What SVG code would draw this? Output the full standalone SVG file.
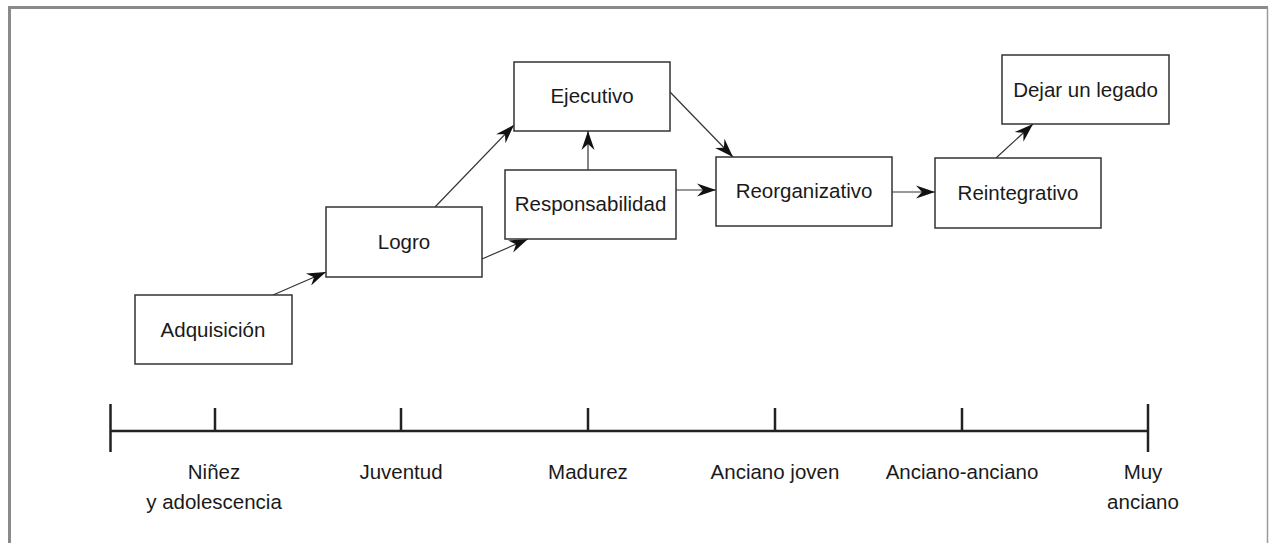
<svg xmlns="http://www.w3.org/2000/svg" width="1269" height="543" viewBox="0 0 1269 543">
<style>
.box{fill:#fff;stroke:#333;stroke-width:1.5}
.t{font-family:"Liberation Sans",Arial,sans-serif;font-size:20.5px;fill:#1a1a1a;text-anchor:middle}
.c{stroke:#333;stroke-width:1.2;fill:none;marker-end:url(#ah)}
.tl{stroke:#222;stroke-width:2.5;fill:none}
</style>
<defs>
<marker id="ah" markerUnits="userSpaceOnUse" markerWidth="22" markerHeight="16" viewBox="-20 -8 21 16" refX="0" refY="0" orient="auto">
<path d="M0,0 L-19,-6.5 L-13,0 L-19,6.5 Z" fill="#111"/>
</marker>
</defs>
<rect width="1269" height="543" fill="#fff"/>
<g id="frame">
<path d="M9.5,543 V7.5 H1268" fill="none" stroke="#8a8a8a" stroke-width="3"/>
<path d="M1267.5,7 V543" fill="none" stroke="#9a9a9a" stroke-width="1.5"/>
</g>
<g id="connectors">
<line class="c" x1="273" y1="295" x2="326" y2="272"/>
<line class="c" x1="435" y1="207" x2="514" y2="125"/>
<line class="c" x1="482" y1="259" x2="528" y2="239"/>
<line class="c" x1="588" y1="170" x2="588" y2="131"/>
<line class="c" x1="670" y1="92" x2="733" y2="157"/>
<line class="c" x1="676" y1="190" x2="716" y2="190"/>
<line class="c" x1="892" y1="192" x2="935" y2="192"/>
<line class="c" x1="996" y1="158" x2="1033" y2="124"/>
</g>
<g id="adquisicion"><rect class="box" x="135" y="295" width="157" height="69"/><text class="t" x="213" y="337">Adquisición</text></g>
<g id="logro"><rect class="box" x="326" y="207" width="156" height="70"/><text class="t" x="404" y="249">Logro</text></g>
<g id="responsabilidad"><rect class="box" x="505" y="170" width="171" height="69"/><text class="t" x="590.5" y="211">Responsabilidad</text></g>
<g id="ejecutivo"><rect class="box" x="514" y="62" width="156" height="69"/><text class="t" x="592" y="103">Ejecutivo</text></g>
<g id="reorganizativo"><rect class="box" x="716" y="157" width="176" height="69"/><text class="t" x="804" y="198">Reorganizativo</text></g>
<g id="reintegrativo"><rect class="box" x="935" y="158" width="166" height="70"/><text class="t" x="1018" y="200">Reintegrativo</text></g>
<g id="legado"><rect class="box" x="1002" y="55" width="167" height="69"/><text class="t" x="1085.5" y="97">Dejar un legado</text></g>
<g id="timeline">
<path class="tl" d="M110.5,431 H1148"/>
<path class="tl" d="M110.5,404 V452 M1148,404 V452 M215,408 V431 M401,408 V431 M588,408 V431 M775,408 V431 M962,408 V431"/>
<text class="t" x="214" y="479">Niñez</text>
<text class="t" x="214" y="509">y adolescencia</text>
<text class="t" x="401" y="479">Juventud</text>
<text class="t" x="588" y="479">Madurez</text>
<text class="t" x="775" y="479">Anciano joven</text>
<text class="t" x="962" y="479">Anciano-anciano</text>
<text class="t" x="1143" y="479">Muy</text>
<text class="t" x="1143" y="509">anciano</text>
</g>
</svg>
